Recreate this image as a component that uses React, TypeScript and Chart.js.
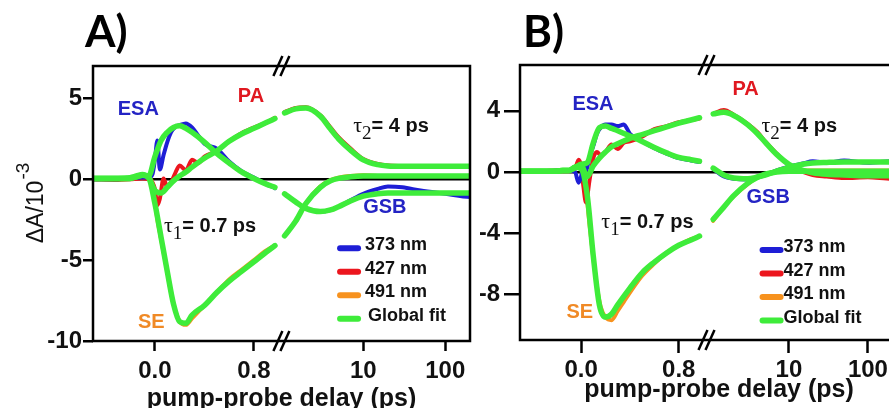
import React, { useEffect, useRef } from 'react';
import { Chart, registerables } from 'chart.js';

Chart.register(...registerables);

// ---------------- data ----------------
// delay times (ps) at which the curves were read from the figure
const tFit = [-0.5, -0.3, -0.2, -0.15, -0.1, -0.05, 0, 0.05, 0.1, 0.15, 0.2, 0.25, 0.3, 0.4, 0.5, 0.6, 0.7, 0.8, 0.9, 0.97,
  1.1, 1.5, 2, 3, 4, 5, 7, 10, 15, 20, 30, 50, 100, 200, 500];
const tData = [-0.5, -0.3, -0.2, -0.1, -0.05, -0.02, 0, 0.02, 0.04, 0.07, 0.1, 0.13, 0.16, 0.2, 0.25, 0.3, 0.35, 0.4, 0.5, 0.6,
  0.7, 0.8, 0.9, 0.97, 1.1, 1.5, 2, 3, 4, 5, 7, 10, 15, 20, 30, 50, 100, 200, 500];

const xTickValues = [0, 0.8, 10, 100];
const xTickLabels = ['0.0', '0.8', '10', '100'];
const aYTicks = [-10, -5, 0, 5];
const bYTicks = [-8, -4, 0, 4];
const legendLabels = ['373 nm', '427 nm', '491 nm', 'Global fit'];

// Panel A: global fits (ΔA / 10^-3)
const aFit373 = [0.05, 0.05, 0.1, 0.2, 0.3, 0.2, 1.4, 2.4, 2.9, 3.2, 3.3, 3.15, 2.9, 2.3, 1.6, 1.0, 0.45, 0.05, -0.3, -0.5,
  -0.9, -1.4, -1.8, -2.0, -1.9, -1.7, -1.35, -1.05, -0.9, -0.85, -0.85, -0.85, -0.85, -0.85, -0.85];
const aFit427 = [0.05, 0.05, 0.05, 0.15, 0.25, 0.1, -0.7, -0.85, -0.5, -0.1, 0.2, 0.45, 0.75, 1.3, 1.75, 2.35, 2.8, 3.15, 3.5, 3.75,
  4.1, 4.35, 4.4, 3.9, 3.1, 2.5, 1.8, 1.2, 0.9, 0.82, 0.8, 0.8, 0.8, 0.8, 0.8];
const aFit491 = [0.05, 0.05, 0.05, 0.15, 0.25, 0.1, -1.5, -3.6, -5.7, -7.7, -8.8, -8.9, -8.4, -7.8, -7.0, -6.3, -5.7, -5.1, -4.5, -4.1,
  -3.5, -2.6, -1.5, -0.5, -0.1, 0.05, 0.15, 0.2, 0.2, 0.2, 0.2, 0.2, 0.2, 0.2, 0.2];
// Panel A: measured traces
const aData373 = [0, 0, 0.05, 0.1, 0.1, 0.3, 1.2, 2.4, 0.6, 1.5, 2.3, 2.9, 3.2, 3.35, 3.45, 3.2, 2.7, 2.2, 1.9, 1.1,
  0.5, 0.1, -0.3, -0.55, -0.9, -1.4, -1.8, -2.0, -1.9, -1.7, -1.3, -0.9, -0.6, -0.45, -0.5, -0.7, -0.9, -1.1, -1.1];
const aData427 = [0, -0.05, 0, 0.05, 0, -0.2, -0.6, -1.6, -1.2, 0.05, -0.5, -0.2, 0.3, 0.85, 0.55, 1.2, 1.0, 1.4, 1.75, 2.35,
  2.85, 3.2, 3.5, 3.8, 4.15, 4.4, 4.45, 3.95, 3.2, 2.6, 1.9, 1.25, 0.95, 0.85, 0.8, 0.75, 0.8, 0.75, 0.75];
const aData491 = [0, 0, 0.05, 0.1, 0.05, -0.2, -1.3, -2.5, -3.3, -4.5, -5.7, -7.0, -8.0, -8.8, -9.0, -8.6, -8.2, -7.8, -7.0, -6.2,
  -5.6, -5.0, -4.4, -4.1, -3.5, -2.6, -1.5, -0.45, -0.05, 0.1, 0.2, 0.25, 0.2, 0.2, 0.2, 0.2, 0.2, 0.2, 0.2];

// Panel B: global fits
const bFit373 = [0.05, 0.05, 0.05, 0.1, 0.1, 0.25, 0.5, 0.6, 1.9, 2.9, 3.0, 2.85, 2.7, 2.35, 2.0, 1.6, 1.25, 0.95, 0.8, 0.7,
  0.25, -0.2, -0.4, -0.45, -0.33, -0.2, 0.05, 0.3, 0.5, 0.58, 0.62, 0.65, 0.65, 0.65, 0.65];
const bFit427 = [0.05, 0.05, 0.05, 0.1, 0.1, 0.3, 0.45, -0.3, 0.4, 0.9, 1.3, 1.65, 1.85, 2.2, 2.45, 2.7, 2.95, 3.2, 3.4, 3.55,
  3.8, 3.9, 3.7, 3.1, 2.5, 1.95, 1.15, 0.5, 0.1, -0.05, -0.15, -0.2, -0.25, -0.25, -0.25];
const bFit491 = [0.05, 0.05, 0.05, 0.1, 0.1, 0.3, 0.2, -1.5, -5.5, -8.7, -9.5, -9.3, -8.7, -7.6, -6.6, -5.9, -5.3, -4.8, -4.45, -4.2,
  -3.1, -2.3, -1.55, -0.75, -0.35, -0.15, 0.0, 0.05, 0.05, 0.05, 0.05, 0.05, 0.05, 0.05, 0.05];
// Panel B: measured traces
const bData373 = [0.05, 0, 0.1, 0.1, 0, -0.7, -0.3, 0.4, 0.1, 1.0, 1.7, 2.5, 2.9, 3.1, 3.1, 3.0, 3.1, 2.5, 2.0, 1.55,
  1.2, 0.9, 0.75, 0.65, 0.2, -0.3, -0.45, -0.5, -0.35, -0.2, 0.1, 0.35, 0.55, 0.7, 0.6, 0.75, 0.6, 0.7, 0.65];
const bData427 = [0, 0.05, 0.1, 0.1, 0.2, 0.8, 0.4, -1.0, -2.0, -0.5, 0.9, 1.3, 1.1, 1.3, 1.8, 1.5, 1.9, 2.0, 2.3, 2.8,
  3.0, 3.25, 3.4, 3.5, 3.8, 4.05, 3.75, 3.15, 2.6, 2.0, 1.2, 0.45, 0.0, -0.2, -0.3, -0.4, -0.35, -0.45, -0.4];
const bData491 = [0.05, 0.05, 0.05, 0.05, 0.3, 0.6, 0.3, -0.5, -1.2, -3.5, -5.6, -7.5, -8.8, -9.5, -9.7, -9.1, -8.5, -7.9, -6.8, -6.0,
  -5.3, -4.8, -4.4, -4.2, -3.2, -2.3, -1.6, -0.8, -0.35, -0.15, 0.05, 0.1, 0.1, 0.1, 0.1, 0.1, 0.1, 0.1, 0.1];

// annotations (delay in ps, ΔA value) – left/baseline anchor
const noteTexts = ['ESA', 'PA', 'GSB', 'SE'];
const aNoteT = [-0.3, 0.67, 10, -0.137];
const aNoteV = [3.95, 4.75, -2.1, -9.2];
const bNoteT = [-0.071, 1.93, 2.91, -0.12];
const bNoteV = [4.07, 5.05, -2.03, -9.57];
const tauSubs = ['1', '2'];
const tauRest = ['= 0.7 ps', '= 4 ps'];
const aTauT = [0.073, 7.55];
const aTauV = [-3.27, 2.9];
const bTauT = [0.166, 4.5];
const bTauV = [-3.67, 2.62];

// ---------------- styles ----------------
const SANS = "'Liberation Sans', Arial, Helvetica, sans-serif";
const SERIF = "'Liberation Serif', 'Times New Roman', serif";
const BLUE = '#1e1ed6';
const RED = '#ec161e';
const ORANGE = '#f7921e';
const GREEN = '#3eec3a';
const seriesColors = [BLUE, RED, ORANGE];
const noteColors = ['#2424c4', '#e01820', '#2424c4', '#f08a26'];

type PanelCfg = any;

const panelA: PanelCfg = {
  name: 'A)', left: 0, width: 480, height: 430,
  padTop: 66, padRight: 10, yAxisWidth: 93, xAxisHeight: 89,
  yMin: -10, yMax: 7, yTicks: aYTicks,
  xMinT: -0.5, xMaxT: 200, logOffset: 1.02, logK: 0.663, breakU: 1.022,
  yTickLen: 10, yTickPad: 1, xTickLen: 10, xTickPad: 6,
  fits: [aFit373, aFit427, aFit491], data: [aData373, aData427, aData491],
  noteT: aNoteT, noteV: aNoteV, tauT: aTauT, tauV: aTauV,
  legendT: 4.8, legendV: -4.26, legendGap: 5,
  labelX: 85, labelY: 47, titleDy: 65, yTitle: true,
};

const panelB: PanelCfg = {
  name: 'B)', left: 480, width: 448, height: 430,
  padTop: 65, padRight: 10, yAxisWidth: 40, xAxisHeight: 90,
  yMin: -11, yMax: 7, yTicks: bYTicks,
  xMinT: -0.5, xMaxT: 430, logOffset: 1.055, logK: 0.647, breakU: 1.027,
  yTickLen: 16, yTickPad: 4, xTickLen: 13, xTickPad: 3,
  fits: [bFit373, bFit427, bFit491], data: [bData373, bData427, bData491],
  noteT: bNoteT, noteV: bNoteV, tauT: bTauT, tauV: bTauV,
  legendT: 4.25, legendV: -5.11, legendGap: 1,
  labelX: 43, labelY: 47, titleDy: 57, yTitle: false,
};

function makeToU(cfg: PanelCfg) {
  return (t: number) => (t <= 1 ? t : cfg.logOffset + cfg.logK * Math.log10(t));
}

function buildPoints(ts: number[], vs: number[], toU: (t: number) => number, breakU: number) {
  const pts: any[] = [];
  for (let i = 0; i < ts.length; i++) {
    if (i > 0 && ts[i - 1] <= 1 && ts[i] > 1) pts.push({ x: breakU, y: null });
    pts.push({ x: toU(ts[i]), y: vs[i] });
  }
  return pts;
}

function decorPlugin(cfg: PanelCfg) {
  const toU = makeToU(cfg);
  return {
    id: 'decor',
    afterDraw(chart: any) {
      const { ctx, chartArea: ca, scales } = chart;
      const xs = scales.x;
      const ys = scales.y;
      const px = (t: number) => xs.getPixelForValue(toU(t));
      const py = (v: number) => ys.getPixelForValue(v);
      ctx.save();
      // frame
      ctx.strokeStyle = '#000';
      ctx.lineWidth = 2.5;
      ctx.strokeRect(ca.left, ca.top, ca.right - ca.left, ca.bottom - ca.top);
      // axis break marks
      const bx = xs.getPixelForValue(cfg.breakU);
      ctx.lineWidth = 2.5;
      ctx.lineCap = 'butt';
      for (const yy of [ca.top, ca.bottom]) {
        for (const dx of [-3.5, 3.5]) {
          ctx.beginPath();
          ctx.moveTo(bx + dx - 4.5, yy + 10);
          ctx.lineTo(bx + dx + 4.5, yy - 10);
          ctx.stroke();
        }
      }
      // annotations
      ctx.textAlign = 'left';
      ctx.textBaseline = 'alphabetic';
      ctx.font = `bold 20px ${SANS}`;
      noteTexts.forEach((txt, i) => {
        ctx.fillStyle = noteColors[i];
        ctx.fillText(txt, px(cfg.noteT[i]), py(cfg.noteV[i]));
      });
      tauSubs.forEach((sub, i) => {
        let x = px(cfg.tauT[i]);
        const y = py(cfg.tauV[i]);
        ctx.fillStyle = '#111';
        ctx.font = `22px ${SERIF}`;
        ctx.fillText('τ', x, y);
        x += ctx.measureText('τ').width;
        ctx.font = `19px ${SERIF}`;
        ctx.fillText(sub, x, y + 7);
        x += ctx.measureText(sub).width;
        ctx.font = `bold 20px ${SANS}`;
        ctx.fillText(tauRest[i], x, y);
      });
      // legend
      const lx = px(cfg.legendT);
      const ly0 = py(cfg.legendV);
      const legColors = [...seriesColors, GREEN];
      legendLabels.forEach((lab, i) => {
        const y = ly0 + i * 23.5;
        ctx.strokeStyle = legColors[i];
        ctx.lineWidth = 6;
        ctx.lineCap = 'round';
        ctx.beginPath();
        ctx.moveTo(lx + 3, y);
        ctx.lineTo(lx + 21, y);
        ctx.stroke();
        ctx.fillStyle = '#111';
        ctx.font = `bold 18px ${SANS}`;
        ctx.fillText(lab, lx + 23 + cfg.legendGap + (i === 3 && cfg.legendGap > 2 ? 3 : 0), y + 2);
      });
      // x-axis title
      ctx.fillStyle = '#111';
      ctx.font = `bold 25px ${SANS}`;
      ctx.textAlign = 'center';
      ctx.fillText('pump-probe delay (ps)', (ca.left + ca.right) / 2, ca.bottom + cfg.titleDy);
      // panel label
      ctx.textAlign = 'left';
      ctx.font = `bold 44px Lato, ${SANS}`;
      ctx.fillStyle = '#000';
      ctx.fillText(cfg.name, cfg.labelX, cfg.labelY);
      // y-axis title
      if (cfg.yTitle) {
        ctx.translate(ca.left - 50, (ca.top + ca.bottom) / 2);
        ctx.rotate(-Math.PI / 2);
        ctx.font = `23px ${SANS}`;
        const main = 'ΔA/10';
        const w1 = ctx.measureText(main).width;
        ctx.font = `19px ${SANS}`;
        const w2 = ctx.measureText('-3').width;
        const start = -(w1 + w2) / 2;
        ctx.font = `23px ${SANS}`;
        ctx.fillStyle = '#111';
        ctx.fillText(main, start, 0);
        ctx.font = `19px ${SANS}`;
        ctx.fillText('-3', start + w1 + 1, -14);
      }
      ctx.restore();
    },
  };
}

function buildConfig(cfg: PanelCfg): any {
  const toU = makeToU(cfg);
  const datasets: any[] = [];
  cfg.fits.forEach((vals: number[], i: number) => {
    datasets.push({
      label: `fit ${legendLabels[i]}`,
      data: buildPoints(tFit, vals, toU, cfg.breakU),
      borderColor: GREEN,
      borderWidth: 5.5,
      pointRadius: 0,
      cubicInterpolationMode: 'monotone',
      borderCapStyle: 'round',
      borderJoinStyle: 'round',
      fill: false,
      order: 0,
    });
  });
  cfg.data.forEach((vals: number[], i: number) => {
    datasets.push({
      label: legendLabels[i],
      data: buildPoints(tData, vals, toU, cfg.breakU),
      borderColor: seriesColors[i],
      borderWidth: 4,
      pointRadius: 0,
      cubicInterpolationMode: 'monotone',
      borderCapStyle: 'round',
      borderJoinStyle: 'round',
      fill: false,
      order: 1,
    });
  });
  const tickFont = { family: SANS, size: 24, weight: 'bold' };
  return {
    type: 'line',
    data: { datasets },
    options: {
      animation: false,
      responsive: false,
      devicePixelRatio: 1,
      events: [],
      layout: { padding: { left: 0, top: cfg.padTop, right: cfg.padRight, bottom: 0 } },
      plugins: { legend: { display: false }, tooltip: { enabled: false } },
      scales: {
        x: {
          type: 'linear',
          min: toU(cfg.xMinT),
          max: toU(cfg.xMaxT),
          afterBuildTicks: (s: any) => {
            s.ticks = xTickValues.map((v) => ({ value: toU(v) }));
          },
          afterFit: (s: any) => {
            s.height = cfg.xAxisHeight;
          },
          ticks: {
            autoSkip: false,
            maxRotation: 0,
            minRotation: 0,
            padding: cfg.xTickPad,
            color: '#111',
            font: tickFont,
            callback: (_v: any, idx: number) => xTickLabels[idx],
          },
          grid: {
            drawOnChartArea: false,
            drawTicks: true,
            tickLength: cfg.xTickLen,
            tickWidth: 2.5,
            tickColor: '#000',
          },
          border: { display: false },
        },
        y: {
          type: 'linear',
          min: cfg.yMin,
          max: cfg.yMax,
          afterBuildTicks: (s: any) => {
            s.ticks = cfg.yTicks.map((v: number) => ({ value: v }));
          },
          afterFit: (s: any) => {
            s.width = cfg.yAxisWidth;
          },
          ticks: {
            padding: cfg.yTickPad,
            color: '#111',
            font: tickFont,
            callback: (v: any) => String(v),
          },
          grid: {
            drawOnChartArea: true,
            drawTicks: true,
            tickLength: cfg.yTickLen,
            tickWidth: 2.5,
            tickColor: '#000',
            lineWidth: 2.5,
            color: (c: any) => (c.tick && c.tick.value === 0 ? '#000' : 'rgba(0,0,0,0)'),
          },
          border: { display: false },
        },
      },
    },
    plugins: [decorPlugin(cfg)],
  };
}

function Panel({ cfg }: { cfg: PanelCfg }) {
  const ref = useRef<HTMLCanvasElement>(null);
  useEffect(() => {
    const chart = new Chart(ref.current as HTMLCanvasElement, buildConfig(cfg));
    return () => chart.destroy();
  }, [cfg]);
  return (
    <canvas
      ref={ref}
      width={cfg.width}
      height={cfg.height}
      style={{ position: 'absolute', left: cfg.left, top: 0, width: cfg.width, height: cfg.height }}
    />
  );
}

export default function App() {
  return (
    <div
      style={{
        position: 'fixed', left: 0, top: 0, width: 889, height: 408,
        overflow: 'hidden', background: '#fff',
      }}
    >
      <Panel cfg={panelA} />
      <Panel cfg={panelB} />
    </div>
  );
}
